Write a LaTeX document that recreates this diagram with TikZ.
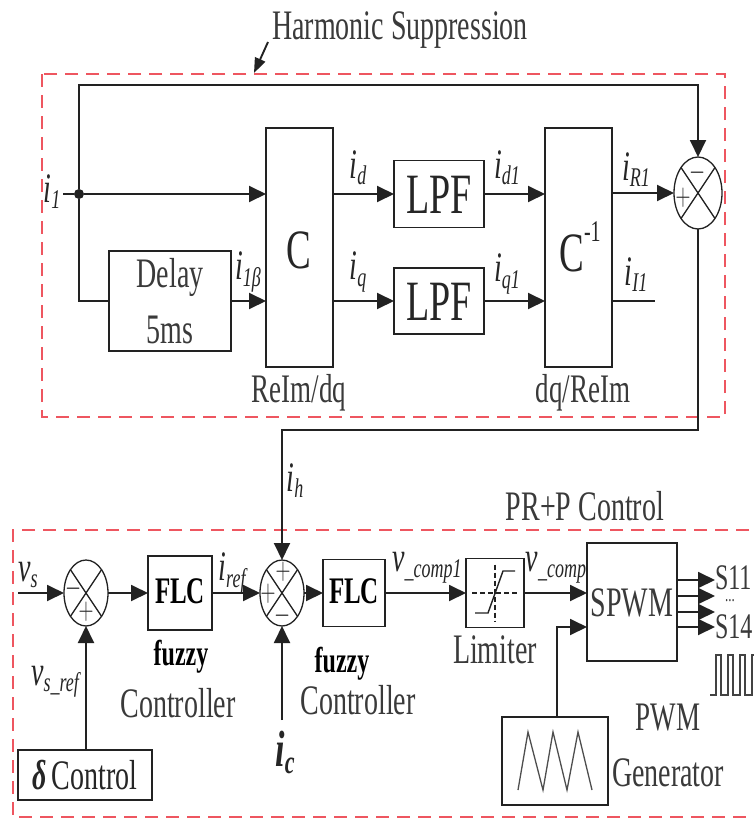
\documentclass[tikz,border=0pt]{standalone}
\usepackage{fontspec}
\setmainfont{Liberation Serif}
\usepackage{graphicx}
\usetikzlibrary{arrows.meta,shapes.geometric}
\definecolor{ln}{HTML}{222222}
\definecolor{tx}{HTML}{262626}
\definecolor{gtx}{HTML}{3A3A3A}
\definecolor{dred}{RGB}{238,86,96}
\newcommand\vs[1]{\scalebox{1}[1.5]{#1}}
\newcommand\fs[1]{\fontsize{#1}{#1}\selectfont}
\newcommand\lab[2]{\textit{#1}\raisebox{-0.32ex}{\fs{18}\textit{#2}}}
\begin{document}
\begin{tikzpicture}[x=1pt,y=-1pt,
  line/.style={draw=ln,line width=1.9pt},
  arr/.style={line,-{Triangle[length=17pt,width=16pt]}},
  blk/.style={draw=ln,line width=1.9pt,rectangle,inner sep=0pt,outer sep=0pt},
  sumn/.style={draw=ln,line width=1.3pt,ellipse,inner sep=0pt,outer sep=0pt},
  txt/.style={inner sep=0pt,outer sep=0pt,text=tx,font=\fs{28}},
  gt/.style={txt,text=gtx},
  sgn/.style={inner sep=0pt,text=tx,font=\fs{20}},
  dbox/.style={draw=dred,line width=2.2pt,dash pattern=on 13pt off 8pt}]
\useasboundingbox (0,0) rectangle (753,819);
\fill[white] (0,0) rectangle (753,819);

% dashed frames
\draw[dbox] (42,74) rectangle (725,417);
\draw[dbox] (770,530) -- (13,530) -- (13,817) -- (770,817);

% ---------- upper part ----------
\node[gt] (hs) at (400,30) {\vs{Harmonic Suppression}};
\coordinate (ha) at (268,42);
\coordinate (hb) at (254,73);
\draw[line,-{Triangle[length=15pt,width=11pt]}] (ha) -- (hb);

\node[blk,minimum width=67pt,minimum height=239pt] (C) at (299.5,247.5) {};
\node[blk,minimum width=67pt,minimum height=239pt] (Ci) at (578.5,247.5) {};
\node[blk,minimum width=90pt,minimum height=67pt] (L1) at (439,194) {};
\node[blk,minimum width=90pt,minimum height=66pt] (L2) at (439,301) {};
\node[blk,minimum width=122pt,minimum height=100pt] (D) at (170,301) {};
\node[sumn,minimum width=48pt,minimum height=72pt] (s0) at (698,193) {};

\node[txt,font=\fs{37}] (Ct) at (299,250) {\vs{C}};
\node[txt,font=\fs{37}] (Cit) at (580,247) {\vs{C\raisebox{0.55em}{\fs{20}-1}}};
\node[txt,font=\fs{38}] (L1t) at (439,195) {\vs{LPF}};
\node[txt,font=\fs{38}] (L2t) at (439,302) {\vs{LPF}};
\node[gt] (Dt1) at (170,277) {\vs{Delay}};
\node[gt] (Dt2) at (170,330) {\vs{5ms}};
\node[gt,font=\fs{27}] (rd) at (299,393) {\vs{ReIm/dq}};
\node[gt,font=\fs{27}] (dr) at (583,393) {\vs{dq/ReIm}};

\draw[line,line width=1.3pt] (s0.north west) -- (s0.south east);
\draw[line,line width=1.3pt] (s0.north east) -- (s0.south west);
\node[sgn] (s0m) at (698,173) {\vs{$-$}};
\node[sgn] (s0p) at (683,198) {\vs{$+$}};

\node[txt] (i1) at (52,192) {\vs{\lab{i}{1}}};
\node[txt] (i1b) at (248,272) {\vs{\lab{i}{1β}}};
\node[txt] (id) at (358,168) {\vs{\lab{i}{d}}};
\node[txt] (iq) at (358,272) {\vs{\lab{i}{q}}};
\node[txt] (id1) at (507,168) {\vs{\lab{i}{d1}}};
\node[txt] (iq1) at (507,274) {\vs{\lab{i}{q1}}};
\node[txt] (iR1) at (636,170) {\vs{\lab{i}{R1}}};
\node[txt] (iI1) at (636,275) {\vs{\lab{i}{I1}}};

\coordinate (in1) at (63,194);
\node[circle,fill=ln,minimum size=10pt,inner sep=0pt] (j) at (79,194) {};
\coordinate (tl) at (79,85);
\coordinate (iIe) at (655,301);
\draw[line] (in1) -- (j);
\draw[arr] (j) -- (j -| C.west);
\draw[line] (j) |- (D.west);
\draw[arr] (D.east) -- (D.east -| C.west);
\draw[arr] (L1.west -| C.east) -- (L1.west);
\draw[arr] (L2.west -| C.east) -- (L2.west);
\draw[arr] (L1.east) -- (L1.east -| Ci.west);
\draw[arr] (L2.east) -- (L2.east -| Ci.west);
\draw[arr] (s0.west -| Ci.east) -- (s0.west);
\draw[line] (L2.east -| Ci.east) -- (iIe);
\draw[arr] (j) -- (tl) -| (s0.north);

% ---------- lower part ----------
\node[gt] (pr) at (585,506) {\vs{PR+P Control}};

\node[sumn,minimum width=44pt,minimum height=66pt] (s1) at (86,593) {};
\node[sumn,minimum width=44pt,minimum height=66pt] (s2) at (282,593) {};
\foreach \s in {s1,s2}{
  \draw[line,line width=1.3pt] (\s.north west) -- (\s.south east);
  \draw[line,line width=1.3pt] (\s.north east) -- (\s.south west);}
\node[sgn] (s1m) at (74,589) {\vs{$-$}};
\node[sgn] (s1p) at (86,612) {\vs{$+$}};
\node[sgn] (s2a) at (283,572) {\vs{$+$}};
\node[sgn] (s2b) at (268,594) {\vs{$+$}};
\node[sgn] (s2c) at (283,616) {\vs{$-$}};

\node[blk,minimum width=64pt,minimum height=74pt] (F1) at (180,593) {};
\node[blk,minimum width=62pt,minimum height=67pt] (F2) at (354,593) {};
\node[blk,minimum width=58pt,minimum height=69pt] (Lm) at (495,593) {};
\node[blk,minimum width=90pt,minimum height=118pt] (SP) at (632,602) {};
\node[blk,minimum width=106pt,minimum height=88pt] (PG) at (555,761) {};
\node[blk,minimum width=134pt,minimum height=50pt] (DC) at (85,775) {};

\node[txt,font=\bfseries\fs{25},text=black] (F1t) at (180,591) {\vs{FLC}};
\node[txt,font=\bfseries\fs{25},text=black] (F2t) at (354,591) {\vs{FLC}};
\node[txt,font=\bfseries\fs{24},text=black] (fz1) at (181,657) {\vs{fuzzy}};
\node[gt] (co1) at (178,703) {\vs{Controller}};
\node[txt,font=\bfseries\fs{24},text=black] (fz2) at (342,664) {\vs{fuzzy}};
\node[gt] (co2) at (358,700) {\vs{Controller}};
\node[gt] (lmt) at (495,650) {\vs{Limiter}};
\node[gt] (spt) at (632,603) {\vs{SPWM}};
\node[gt,font=\fs{27}] (pwt) at (668,718) {\vs{PWM}};
\node[gt] (gnt) at (668,773) {\vs{Generator}};
\node[txt] (dct) at (85,775) {\vs{\textbf{\textit{δ}}\,Control}};

\node[txt] (vs) at (28,575) {\vs{\lab{v}{s}}};
\node[txt] (vsr) at (56,682) {\vs{\lab{v}{s\_ref}}};
\node[txt] (iref) at (233,573) {\vs{\lab{i}{ref}}};
\node[txt] (ih) at (295,481) {\vs{\lab{i}{h}}};
\node[txt,font=\bfseries\fs{34}] (ic) at (285,752) {\vs{\textbf{\textit{i}}\raisebox{-0.3ex}{\fs{22}\textbf{\textit{c}}}}};
\node[txt] (vc1) at (427,568) {\vs{\lab{v}{\_comp1}}};
\node[txt] (vc) at (556,568) {\vs{\lab{v}{\_comp}}};
\node[gt,anchor=west,font=\fs{24}] (S11) at (715,578) {\vs{S11}};
\node[gt,anchor=west,font=\fs{13}] (dots) at (725,601) {\vs{...}};
\node[gt,anchor=west,font=\fs{24}] (S14) at (715,627) {\vs{S14}};

% limiter symbol
\draw[ln,line width=1.2pt,dash pattern=on 5pt off 3pt] (Lm.west |- 0,593) ++(6,0) -- ++(46,0);
\draw[ln,line width=1.2pt,dash pattern=on 5pt off 3pt] (Lm.north -| 495,0) ++(0,6) -- ++(0,57);
\draw[ln,line width=1.4pt] (475,613) -- (488,613) -- (503,571) -- (515,571);

% triangle wave
\draw[ln!80,line width=1.3pt] (518,790) -- (528,732) -- (543,790) -- (553,732) -- (567,790) -- (578,732) -- (592,790);

% square wave
\draw[ln!85,line width=1.3pt] (710,695) -- (716,695) -- (716,655) -- (721,655) -- (721,695) -- (728,695) -- (728,655) -- (733,655) -- (733,695) -- (740,695) -- (740,655) -- (745,655) -- (745,695) -- (752,695) -- (752,655) -- (756,655);

% connectors lower
\coordinate (vsin) at (18,593);
\coordinate (hbend) at (282,430);
\coordinate (icin) at (282,720);
\coordinate (pw) at (557,627);
\draw[arr] (s0.south) |- (hbend) -- (s2.north);
\draw[arr] (vsin) -- (s1.west);
\draw[arr] (s1.south |- DC.north) -- (s1.south);
\draw[arr] (s1.east) -- (F1.west);
\draw[arr] (F1.east) -- (s2.west);
\draw[arr] (icin) -- (s2.south);
\draw[arr] (s2.east) -- (F2.west);
\draw[arr] (F2.east) -- (Lm.west);
\draw[arr] (Lm.east) -- (Lm.east -| SP.west);
\draw[arr] (pw |- PG.north) -- (pw) -- (pw -| SP.west);
\foreach \yy in {580,596,612,627}{
  \draw[arr] (SP.east |- 0,\yy) -- (715,\yy);}
\end{tikzpicture}
\end{document}
